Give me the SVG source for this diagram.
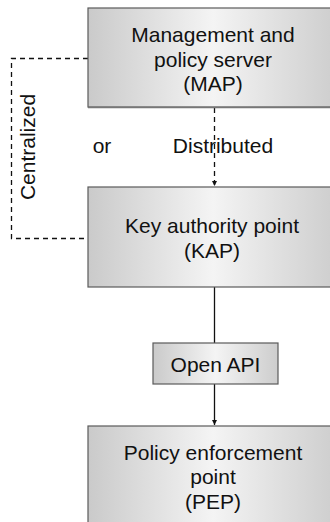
<svg xmlns="http://www.w3.org/2000/svg" width="330" height="522" viewBox="0 0 330 522">
<style>
  .box { stroke: #5a5a5a; stroke-width: 1.2; }
  .t { font-family: "Liberation Sans", Arial, sans-serif; font-size: 21px; fill: #111; text-anchor: middle; }
  .dash { fill: none; stroke: #111; stroke-width: 1.3; stroke-dasharray: 5 4; }
  .solid { fill: none; stroke: #111; stroke-width: 1.3; }
</style>
<defs>
  <linearGradient id="g" x1="0" y1="0" x2="1" y2="0">
    <stop offset="0" stop-color="#cacaca"/>
    <stop offset="0.5" stop-color="#f4f4f4"/>
    <stop offset="1" stop-color="#cdcdcd"/>
  </linearGradient>
  <marker id="arr" viewBox="0 0 10 10" refX="10" refY="5" markerWidth="5" markerHeight="8" orient="auto" markerUnits="userSpaceOnUse">
    <path d="M0,0 L10,5 L0,10 z" fill="#111"/>
  </marker>
</defs>
<g id="connectors">
  <path class="dash" d="M88,58.5 H11.5 V238.5 H88"/>
  <line class="dash" x1="214.5" y1="108" x2="214.5" y2="186" marker-end="url(#arr)"/>
  <line class="solid" x1="214.5" y1="287" x2="214.5" y2="343"/>
  <line class="solid" x1="214.5" y1="384" x2="214.5" y2="425" marker-end="url(#arr)"/>
  <text class="t" transform="translate(35,147) rotate(-90)">Centralized</text>
  <text class="t" x="102" y="153">or</text>
  <text class="t" x="223" y="153">Distributed</text>
</g>
<g id="map">
  <rect class="box" x="88" y="8" width="250" height="99" fill="url(#g)"/>
  <line x1="88" y1="107.5" x2="330" y2="107.5" stroke="#777" stroke-width="1.5"/>
  <text class="t" x="213" y="42">Management and</text>
  <text class="t" x="213" y="66.5">policy server</text>
  <text class="t" x="213" y="91">(MAP)</text>
</g>
<g id="kap">
  <rect class="box" x="88" y="187" width="250" height="100" fill="url(#g)"/>
  <text class="t" x="212" y="233">Key authority point</text>
  <text class="t" x="212" y="257.5">(KAP)</text>
</g>
<g id="api">
  <rect class="box" x="153" y="343" width="125" height="41" fill="url(#g)"/>
  <text class="t" x="215.5" y="371.5">Open API</text>
</g>
<g id="pep">
  <rect class="box" x="88" y="426" width="250" height="110" fill="url(#g)"/>
  <text class="t" x="213" y="459.5">Policy enforcement</text>
  <text class="t" x="213" y="484">point</text>
  <text class="t" x="213" y="508.5">(PEP)</text>
</g>
</svg>
